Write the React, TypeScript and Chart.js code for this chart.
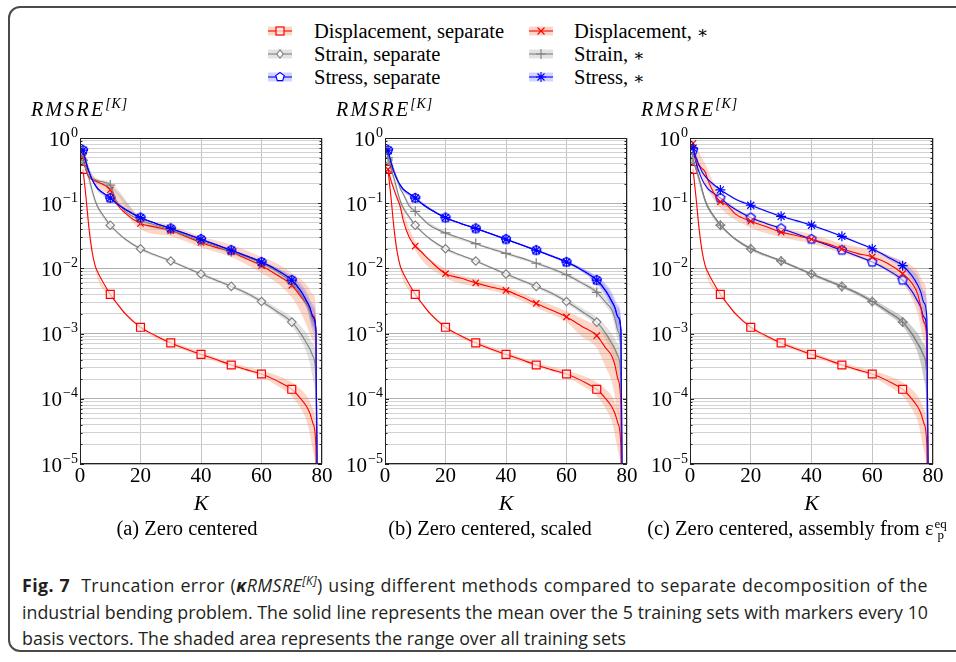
import React, { useEffect, useRef } from 'react';
import { Chart, registerables } from 'chart.js';

Chart.register(...registerables);

// ---------- data ----------
const K = [1, 2, 3, 4, 5, 6, 8, 10, 12, 15, 20, 25, 30, 35, 40, 45, 50, 55, 60, 65, 70, 73, 75, 76, 77, 78, 78.6];
const BAND_K = [1, 5, 10, 20, 30, 40, 50, 60, 65, 70, 73, 75, 77, 78, 78.6];
const MARKER_K = [1, 10, 20, 30, 40, 50, 60, 70];
const X_TICKS = [0, 20, 40, 60, 80];
const Y_EXPONENTS = [0, -1, -2, -3, -4, -5];

// separate decomposition (same in all panels)
const dispSep = [0.33, 0.12, 0.04, 0.018, 0.011, 0.0085, 0.0057, 0.004, 0.003, 0.002, 0.00125, 0.00093, 0.00072, 0.00058, 0.00048, 0.0004, 0.00033, 0.00028, 0.00024, 0.00019, 0.00014, 0.0001, 0.000075, 0.00006, 0.000042, 0.000018, 1e-7];
const dispSepLo = [0.31, 0.01, 0.0038, 0.00118, 0.00068, 0.00045, 0.00031, 0.00022, 0.00016, 0.00011, 0.00007, 0.000045, 0.000016, 0.000006, 1e-7];
const dispSepHi = [0.35, 0.012, 0.0042, 0.00132, 0.00077, 0.00052, 0.00036, 0.00027, 0.00023, 0.00018, 0.00014, 0.00011, 0.00007, 0.00003, 1e-7];
const strainSep = [0.46, 0.33, 0.24, 0.16, 0.11, 0.085, 0.062, 0.046, 0.037, 0.028, 0.02, 0.016, 0.013, 0.0103, 0.0082, 0.0066, 0.0053, 0.0042, 0.0031, 0.0022, 0.0015, 0.001, 0.0007, 0.00058, 0.00045, 0.0002, 1e-7];
const strainSepLo = [0.44, 0.1, 0.044, 0.019, 0.0125, 0.0078, 0.005, 0.0029, 0.002, 0.0013, 0.0008, 0.0005, 0.0002, 0.00005, 1e-7];
const strainSepHi = [0.48, 0.12, 0.048, 0.021, 0.0136, 0.0086, 0.0056, 0.0034, 0.0025, 0.0018, 0.0013, 0.001, 0.0007, 0.0004, 1e-7];
const stressSep = [0.65, 0.42, 0.3, 0.23, 0.19, 0.165, 0.14, 0.12, 0.1, 0.08, 0.06, 0.049, 0.041, 0.034, 0.028, 0.023, 0.019, 0.0155, 0.0125, 0.0095, 0.0066, 0.0045, 0.0031, 0.0025, 0.0018, 0.0011, 1e-7];
const stressSepLo = [0.63, 0.18, 0.115, 0.058, 0.04, 0.027, 0.0184, 0.012, 0.009, 0.006, 0.0039, 0.0027, 0.0013, 0.0006, 1e-7];
const stressSepHi = [0.67, 0.2, 0.125, 0.062, 0.042, 0.029, 0.0196, 0.0131, 0.0102, 0.0073, 0.0053, 0.0038, 0.0025, 0.0016, 1e-7];

// (a) zero centered
const aDisp = [0.5, 0.32, 0.25, 0.23, 0.22, 0.21, 0.19, 0.16, 0.1, 0.07, 0.049, 0.043, 0.038, 0.031, 0.025, 0.021, 0.018, 0.014, 0.011, 0.008, 0.0055, 0.0037, 0.0028, 0.0023, 0.0019, 0.0011, 1e-7];
const aDispLo = [0.45, 0.19, 0.13, 0.04, 0.031, 0.021, 0.015, 0.0085, 0.006, 0.0036, 0.0021, 0.0013, 0.0008, 0.0004, 1e-7];
const aDispHi = [0.55, 0.24, 0.19, 0.062, 0.046, 0.031, 0.023, 0.015, 0.012, 0.0085, 0.0068, 0.0055, 0.004, 0.0025, 1e-7];
const aStrain = [0.45, 0.33, 0.26, 0.24, 0.23, 0.22, 0.21, 0.19, 0.11, 0.075, 0.055, 0.046, 0.039, 0.032, 0.026, 0.022, 0.018, 0.015, 0.012, 0.009, 0.006, 0.004, 0.0028, 0.0022, 0.0016, 0.0009, 1e-7];
const aStrainLo = [0.43, 0.21, 0.17, 0.05, 0.036, 0.024, 0.0165, 0.011, 0.0082, 0.0054, 0.0035, 0.0024, 0.0013, 0.0006, 1e-7];
const aStrainHi = [0.47, 0.25, 0.21, 0.06, 0.042, 0.028, 0.0195, 0.013, 0.0098, 0.0066, 0.0045, 0.0033, 0.002, 0.0012, 1e-7];
const aStress = [0.65, 0.42, 0.3, 0.23, 0.19, 0.165, 0.14, 0.12, 0.1, 0.08, 0.06, 0.049, 0.041, 0.034, 0.028, 0.023, 0.019, 0.0155, 0.0125, 0.0095, 0.0066, 0.0045, 0.0031, 0.0025, 0.0018, 0.0011, 1e-7];
const aStressLo = [0.63, 0.18, 0.115, 0.058, 0.04, 0.027, 0.0184, 0.012, 0.009, 0.0058, 0.0036, 0.0024, 0.0011, 0.0005, 1e-7];
const aStressHi = [0.67, 0.2, 0.125, 0.062, 0.042, 0.029, 0.0196, 0.0131, 0.0102, 0.0076, 0.0058, 0.0043, 0.0028, 0.0018, 1e-7];

// (b) zero centered, scaled
const bDisp = [0.33, 0.22, 0.16, 0.12, 0.09, 0.055, 0.03, 0.022, 0.018, 0.013, 0.0083, 0.0071, 0.006, 0.0052, 0.0046, 0.0037, 0.0029, 0.0023, 0.0018, 0.0013, 0.00093, 0.0006, 0.00045, 0.00033, 0.0002, 0.00008, 1e-7];
const bDispLo = [0.31, 0.08, 0.019, 0.0072, 0.0052, 0.004, 0.0025, 0.0015, 0.0009, 0.0006, 0.0003, 0.00018, 0.00006, 0.00002, 1e-7];
const bDispHi = [0.35, 0.1, 0.026, 0.0098, 0.0068, 0.0052, 0.0034, 0.0022, 0.0017, 0.0013, 0.001, 0.0008, 0.0005, 0.0002, 1e-7];
const bStrain = [0.5, 0.38, 0.3, 0.24, 0.17, 0.14, 0.09, 0.075, 0.06, 0.045, 0.035, 0.029, 0.024, 0.02, 0.017, 0.0145, 0.012, 0.01, 0.008, 0.006, 0.0043, 0.003, 0.0023, 0.0017, 0.0011, 0.0005, 1e-7];
const bStrainLo = [0.48, 0.16, 0.072, 0.033, 0.023, 0.016, 0.0114, 0.0075, 0.0056, 0.0039, 0.0026, 0.0019, 0.0008, 0.0003, 1e-7];
const bStrainHi = [0.52, 0.18, 0.078, 0.037, 0.025, 0.018, 0.0126, 0.0085, 0.0064, 0.0048, 0.0036, 0.0029, 0.0016, 0.0008, 1e-7];
const bStress = [0.65, 0.42, 0.3, 0.23, 0.19, 0.165, 0.14, 0.12, 0.1, 0.08, 0.06, 0.049, 0.041, 0.034, 0.028, 0.023, 0.019, 0.0155, 0.0125, 0.0095, 0.0066, 0.0045, 0.0031, 0.0025, 0.0018, 0.0011, 1e-7];
const bStressLo = [0.63, 0.18, 0.115, 0.058, 0.04, 0.027, 0.0184, 0.012, 0.009, 0.0058, 0.0036, 0.0024, 0.0011, 0.0005, 1e-7];
const bStressHi = [0.67, 0.2, 0.125, 0.062, 0.042, 0.029, 0.0196, 0.0131, 0.0102, 0.0076, 0.0058, 0.0043, 0.0028, 0.0018, 1e-7];

// (c) zero centered, assembly from eps_p^eq
const cDisp = [0.83, 0.45, 0.38, 0.34, 0.3, 0.22, 0.14, 0.105, 0.095, 0.068, 0.053, 0.044, 0.036, 0.032, 0.028, 0.024, 0.02, 0.017, 0.015, 0.012, 0.0083, 0.006, 0.004, 0.0025, 0.0015, 0.0008, 1e-7];
const cDispLo = [0.75, 0.2, 0.085, 0.042, 0.03, 0.024, 0.017, 0.012, 0.009, 0.006, 0.0035, 0.002, 0.0008, 0.0003, 1e-7];
const cDispHi = [0.9, 0.4, 0.13, 0.065, 0.043, 0.033, 0.024, 0.019, 0.016, 0.013, 0.011, 0.009, 0.006, 0.003, 1e-7];
const cStrain = [0.46, 0.33, 0.24, 0.16, 0.11, 0.085, 0.062, 0.046, 0.037, 0.028, 0.02, 0.016, 0.013, 0.0103, 0.0082, 0.0066, 0.0053, 0.0042, 0.0031, 0.0022, 0.0015, 0.001, 0.0007, 0.00058, 0.00045, 0.0002, 1e-7];
const cStrainLo = [0.44, 0.1, 0.044, 0.019, 0.0125, 0.0078, 0.005, 0.0029, 0.002, 0.0013, 0.0008, 0.0005, 0.0002, 0.00005, 1e-7];
const cStrainHi = [0.48, 0.12, 0.048, 0.021, 0.0136, 0.0086, 0.0056, 0.0034, 0.0025, 0.0018, 0.0013, 0.001, 0.0007, 0.0004, 1e-7];
const cStress = [0.7, 0.5, 0.38, 0.3, 0.26, 0.23, 0.19, 0.16, 0.14, 0.115, 0.093, 0.076, 0.063, 0.054, 0.046, 0.038, 0.031, 0.025, 0.02, 0.015, 0.011, 0.0078, 0.0055, 0.0043, 0.003, 0.0017, 1e-7];
const cStressLo = [0.68, 0.25, 0.155, 0.09, 0.061, 0.044, 0.03, 0.019, 0.014, 0.0098, 0.0066, 0.0045, 0.0022, 0.001, 1e-7];
const cStressHi = [0.72, 0.27, 0.165, 0.096, 0.065, 0.048, 0.032, 0.021, 0.016, 0.0125, 0.0095, 0.0075, 0.0045, 0.0028, 1e-7];

const LEGEND_LABELS = ['Displacement, separate', 'Strain, separate', 'Stress, separate', 'Displacement, ', 'Strain, ', 'Stress, '];
const SUBCAPTIONS = ['(a) Zero centered', '(b) Zero centered, scaled', '(c) Zero centered, assembly from '];

// ---------- styles ----------
const RED = '#ff0000';
const GRAY = '#808080';
const BLUE = '#0000ff';
const RED_BAND = 'rgba(246,150,110,0.38)';
const GRAY_BAND = 'rgba(150,150,150,0.28)';
const BLUE_BAND = 'rgba(110,110,255,0.3)';
const SERIF = '"Liberation Serif", "Times New Roman", serif';

function makePentagon(color: string, r: number) {
  const c = document.createElement('canvas');
  const s = Math.ceil(r * 2 + 4);
  c.width = s; c.height = s;
  const g = c.getContext('2d')!;
  g.beginPath();
  for (let i = 0; i < 5; i++) {
    const a = -Math.PI / 2 + (i * 2 * Math.PI) / 5;
    const px = s / 2 + r * Math.cos(a);
    const py = s / 2 + r * Math.sin(a);
    if (i) g.lineTo(px, py); else g.moveTo(px, py);
  }
  g.closePath();
  g.fillStyle = 'rgba(255,255,255,0.6)';
  g.fill();
  g.strokeStyle = color;
  g.lineWidth = 1.3;
  g.stroke();
  return c;
}

function lineDs(values: number[], color: string, style: any, radius: number, fillColor: string) {
  return {
    data: K.map((k, i) => ({ x: k, y: values[i] })),
    borderColor: color,
    borderWidth: 1.1,
    pointStyle: style,
    pointRadius: (c: any) => (c.raw && MARKER_K.includes(c.raw.x) ? radius : 0),
    pointHoverRadius: 0,
    pointBorderColor: color,
    pointBackgroundColor: fillColor,
    pointBorderWidth: 1.2,
    fill: false,
    cubicInterpolationMode: 'monotone',
  };
}

function bandDs(lo: number[], hi: number[], color: string) {
  return [
    {
      data: BAND_K.map((k, i) => ({ x: k, y: hi[i] })),
      borderColor: 'rgba(0,0,0,0)', borderWidth: 0, pointRadius: 0,
      backgroundColor: color, fill: '+1', cubicInterpolationMode: 'monotone',
    },
    {
      data: BAND_K.map((k, i) => ({ x: k, y: lo[i] })),
      borderColor: 'rgba(0,0,0,0)', borderWidth: 0, pointRadius: 0,
      fill: false, cubicInterpolationMode: 'monotone',
    },
  ];
}

const Y_GRID: number[] = (() => {
  const out: number[] = [];
  Y_EXPONENTS.slice().reverse().forEach((e) => {
    if (e === 0) { out.push(1); return; }
    for (let m = 1; m <= 9; m++) out.push(parseFloat((m * Math.pow(10, e)).toPrecision(6)));
  });
  return out;
})();

const decorPlugin = {
  id: 'decor',
  afterDraw(chart: any) {
    const { ctx, chartArea: a, scales } = chart;
    const y = scales.y;
    ctx.save();
    ctx.strokeStyle = '#222';
    ctx.lineWidth = 1;
    ctx.strokeRect(Math.round(a.left) + 0.5, Math.round(a.top) + 0.5, Math.round(a.right - a.left) - 1, Math.round(a.bottom - a.top) - 1);
    ctx.beginPath();
    Y_GRID.forEach((v) => {
      const py = Math.round(y.getPixelForValue(v)) + 0.5;
      const major = Math.abs(Math.log10(v) - Math.round(Math.log10(v))) < 1e-6;
      const len = major ? 4 : 2.5;
      ctx.moveTo(a.left, py); ctx.lineTo(a.left + len, py);
      ctx.moveTo(a.right, py); ctx.lineTo(a.right - len, py);
    });
    ctx.stroke();
    ctx.fillStyle = '#000';
    ctx.textBaseline = 'middle';
    ctx.textAlign = 'left';
    Y_EXPONENTS.forEach((e) => {
      const py = y.getPixelForValue(Math.pow(10, e));
      const sup = e === 0 ? '0' : '\u2212' + String(-e);
      ctx.font = `14px ${SERIF}`;
      const sw = ctx.measureText(sup).width;
      ctx.font = `21px ${SERIF}`;
      const bw = ctx.measureText('10').width;
      const right = a.left - 2;
      ctx.fillText('10', right - sw - bw - 1, py + 2);
      ctx.font = `14px ${SERIF}`;
      ctx.fillText(sup, right - sw, py - 5);
    });
    ctx.restore();
  },
};

type PanelDef = {
  left: number; width: number; labelLeft: number; capCenter: number; caption: number;
  disp: number[]; dispLo: number[]; dispHi: number[];
  strain: number[]; strainLo: number[]; strainHi: number[];
  stress: number[]; stressLo: number[]; stressHi: number[];
};

const PANELS: PanelDef[] = [
  { left: 20, width: 317, labelLeft: 31, capCenter: 187, caption: 0, disp: aDisp, dispLo: aDispLo, dispHi: aDispHi, strain: aStrain, strainLo: aStrainLo, strainHi: aStrainHi, stress: aStress, stressLo: aStressLo, stressHi: aStressHi },
  { left: 325, width: 317, labelLeft: 336, capCenter: 490, caption: 1, disp: bDisp, dispLo: bDispLo, dispHi: bDispHi, strain: bStrain, strainLo: bStrainLo, strainHi: bStrainHi, stress: bStress, stressLo: bStressLo, stressHi: bStressHi },
  { left: 630, width: 318, labelLeft: 641, capCenter: 797, caption: 2, disp: cDisp, dispLo: cDispLo, dispHi: cDispHi, strain: cStrain, strainLo: cStrainLo, strainHi: cStrainHi, stress: cStress, stressLo: cStressLo, stressHi: cStressHi },
];

function Panel({ p }: { p: PanelDef }) {
  const ref = useRef<HTMLCanvasElement>(null);
  useEffect(() => {
    if (!ref.current) return;
    const pent = makePentagon(BLUE, 4.8);
    const datasets: any[] = [
      lineDs(p.stress, BLUE, 'star', 5, BLUE),
      lineDs(p.strain, GRAY, 'cross', 5, GRAY),
      lineDs(p.disp, RED, 'crossRot', 4.5, RED),
      lineDs(stressSep, BLUE, pent, 5, 'rgba(255,255,255,0.6)'),
      lineDs(strainSep, GRAY, 'rectRot', 4.2, 'rgba(255,255,255,0.7)'),
      lineDs(dispSep, RED, 'rect', 5.6, 'rgba(255,240,236,0.7)'),
      ...bandDs(p.stressLo, p.stressHi, BLUE_BAND),
      ...bandDs(p.strainLo, p.strainHi, GRAY_BAND),
      ...bandDs(p.dispLo, p.dispHi, RED_BAND),
      ...bandDs(stressSepLo, stressSepHi, BLUE_BAND),
      ...bandDs(strainSepLo, strainSepHi, GRAY_BAND),
      ...bandDs(dispSepLo, dispSepHi, RED_BAND),
    ];
    const chart = new Chart(ref.current, {
      type: 'line',
      data: { datasets },
      options: {
        responsive: false,
        animation: false,
        events: [],
        layout: { padding: { top: 43, right: 15, left: 0, bottom: 0 } },
        plugins: { legend: { display: false }, tooltip: { enabled: false } },
        scales: {
          x: {
            type: 'linear', min: 0, max: 80,
            afterBuildTicks: (s: any) => { s.ticks = X_TICKS.map((v) => ({ value: v })); },
            afterFit: (s: any) => { s.height = 53; },
            ticks: { font: { family: SERIF, size: 21 }, color: '#000', padding: 0, maxRotation: 0, autoSkip: false },
            grid: { color: '#c4c4c4', drawTicks: false, lineWidth: 1 },
            border: { display: false },
            title: { display: true, text: 'K', color: '#000', padding: 0, font: { family: SERIF, style: 'italic', size: 22 } },
          },
          y: {
            type: 'logarithmic', min: 1e-5, max: 1,
            afterBuildTicks: (s: any) => { s.ticks = Y_GRID.map((v) => ({ value: v })); },
            afterFit: (s: any) => { s.width = 60; },
            ticks: { display: false },
            grid: {
              drawTicks: false,
              color: (c: any) => {
                const v = c.tick ? c.tick.value : 1;
                const l = Math.log10(v);
                return Math.abs(l - Math.round(l)) < 1e-6 ? '#b0b0b0' : '#d2d2d2';
              },
            },
            border: { display: false },
          },
        },
      } as any,
      plugins: [decorPlugin],
    });
    return () => chart.destroy();
  }, [p]);

  return (
    <>
      <canvas ref={ref} width={p.width} height={422} style={{ position: 'absolute', left: p.left, top: 95, width: p.width, height: 422 }} />
      <div style={{ position: 'absolute', left: p.labelLeft, top: 96, fontFamily: SERIF, fontSize: 20, fontStyle: 'italic', letterSpacing: 2.2, lineHeight: '26px', whiteSpace: 'nowrap', color: '#000' }}>
        RMSRE<span style={{ fontSize: 14, position: 'relative', top: -8, letterSpacing: 0.8 }}>[K]</span>
      </div>
      <div style={{ position: 'absolute', left: p.capCenter - 220, width: 440, top: 515, textAlign: 'center', fontFamily: SERIF, fontSize: 20.5, lineHeight: '26px', whiteSpace: 'nowrap', color: '#000' }}>
        {SUBCAPTIONS[p.caption]}
        {p.caption === 2 ? (
          <span style={{ position: 'relative' }}>
            ε
            <span style={{ display: 'inline-flex', flexDirection: 'column', fontSize: 13, lineHeight: '11px', verticalAlign: 'middle', marginLeft: 1, position: 'relative', top: -1 }}>
              <span>eq</span>
              <span>p</span>
            </span>
          </span>
        ) : null}
      </div>
    </>
  );
}

function Marker({ kind, color }: { kind: number; color: string }) {
  const cx = 13, cy = 6;
  switch (kind) {
    case 0: return <rect x={cx - 4} y={cy - 4} width={8} height={8} fill="rgba(255,240,236,0.7)" stroke={color} strokeWidth={1.2} />;
    case 1: return <polygon points={`${cx},${cy - 4.2} ${cx + 3.2},${cy} ${cx},${cy + 4.2} ${cx - 3.2},${cy}`} fill="#fff" stroke={color} strokeWidth={1.1} />;
    case 2: {
      const pts = [0, 1, 2, 3, 4].map((i) => { const a = -Math.PI / 2 + (i * 2 * Math.PI) / 5; return `${cx + 4.5 * Math.cos(a)},${cy + 4.5 * Math.sin(a)}`; }).join(' ');
      return <polygon points={pts} fill="#fff" stroke={color} strokeWidth={1.2} />;
    }
    case 3: return <path d={`M${cx - 3.5},${cy - 3.5}L${cx + 3.5},${cy + 3.5}M${cx - 3.5},${cy + 3.5}L${cx + 3.5},${cy - 3.5}`} stroke={color} strokeWidth={1.2} />;
    case 4: return <path d={`M${cx - 5},${cy}L${cx + 5},${cy}M${cx},${cy - 5}L${cx},${cy + 5}`} stroke={color} strokeWidth={1.1} />;
    default: return <path d={`M${cx - 5},${cy}L${cx + 5},${cy}M${cx},${cy - 5}L${cx},${cy + 5}M${cx - 3.5},${cy - 3.5}L${cx + 3.5},${cy + 3.5}M${cx - 3.5},${cy + 3.5}L${cx + 3.5},${cy - 3.5}`} stroke={color} strokeWidth={1.1} />;
  }
}

function Legend() {
  const colors = [RED, GRAY, BLUE, RED, GRAY, BLUE];
  const bands = [RED_BAND, GRAY_BAND, BLUE_BAND, RED_BAND, GRAY_BAND, BLUE_BAND];
  const rowsY = [31, 54, 77];
  return (
    <>
      {LEGEND_LABELS.map((lab, i) => {
        const col = i < 3 ? 0 : 1;
        const row = i % 3;
        const iconLeft = col === 0 ? 267 : 528;
        const textLeft = col === 0 ? 314 : 574;
        const cy = rowsY[row];
        return (
          <React.Fragment key={i}>
            <svg width={26} height={12} style={{ position: 'absolute', left: iconLeft, top: cy - 6, overflow: 'visible' }}>
              <rect x={1} y={1.5} width={24} height={9} fill={bands[i]} />
              <line x1={1} y1={6} x2={25} y2={6} stroke={colors[i]} strokeWidth={1.1} />
              <Marker kind={i} color={colors[i]} />
            </svg>
            <div style={{ position: 'absolute', left: textLeft, top: cy - 13, lineHeight: '26px', fontFamily: SERIF, fontSize: 20.5, whiteSpace: 'nowrap', color: '#000' }}>
              {lab}
              {col === 1 ? <span style={{ fontFamily: '"DejaVu Serif", serif', fontSize: 17, fontWeight: 400 }}>{'\u2217'}</span> : null}
            </div>
          </React.Fragment>
        );
      })}
    </>
  );
}

function Caption() {
  const base: React.CSSProperties = { position: 'absolute', left: 22, fontFamily: '"Open Sans", "Noto Sans", sans-serif', fontSize: 17.8, lineHeight: '26px', whiteSpace: 'nowrap', color: '#231f20' };
  const just: React.CSSProperties = { width: 906, textAlign: 'justify', textAlignLast: 'justify' as any };
  return (
    <>
      <div style={{ ...base, ...just, top: 572, letterSpacing: 0.4 }}>
        <span style={{ fontWeight: 700 }}>Fig. 7</span>
        <span style={{ marginLeft: 11 }}>Truncation error (</span>
        <span style={{ fontWeight: 700, fontStyle: 'italic' }}>κ</span>
        <span style={{ fontStyle: 'italic' }}>RMSRE</span>
        <span style={{ fontStyle: 'italic', fontSize: 12, position: 'relative', top: -7 }}>[K]</span>
        <span>) using different methods compared to separate decomposition of the</span>
      </div>
      <div style={{ ...base, ...just, top: 599 }}>industrial bending problem. The solid line represents the mean over the 5 training sets with markers every 10</div>
      <div style={{ ...base, top: 625 }}>basis vectors. The shaded area represents the range over all training sets</div>
    </>
  );
}

export default function App() {
  return (
    <div style={{ position: 'absolute', left: 0, top: 0, width: 956, height: 662, overflow: 'hidden', background: '#fff' }}>
      <div style={{ position: 'absolute', left: 8, top: 6, width: 1000, height: 646, border: '2px solid #4a4a4a', borderRadius: 12, boxSizing: 'border-box' }} />
      <Legend />
      {PANELS.map((p, i) => <Panel key={i} p={p} />)}
      <Caption />
    </div>
  );
}
